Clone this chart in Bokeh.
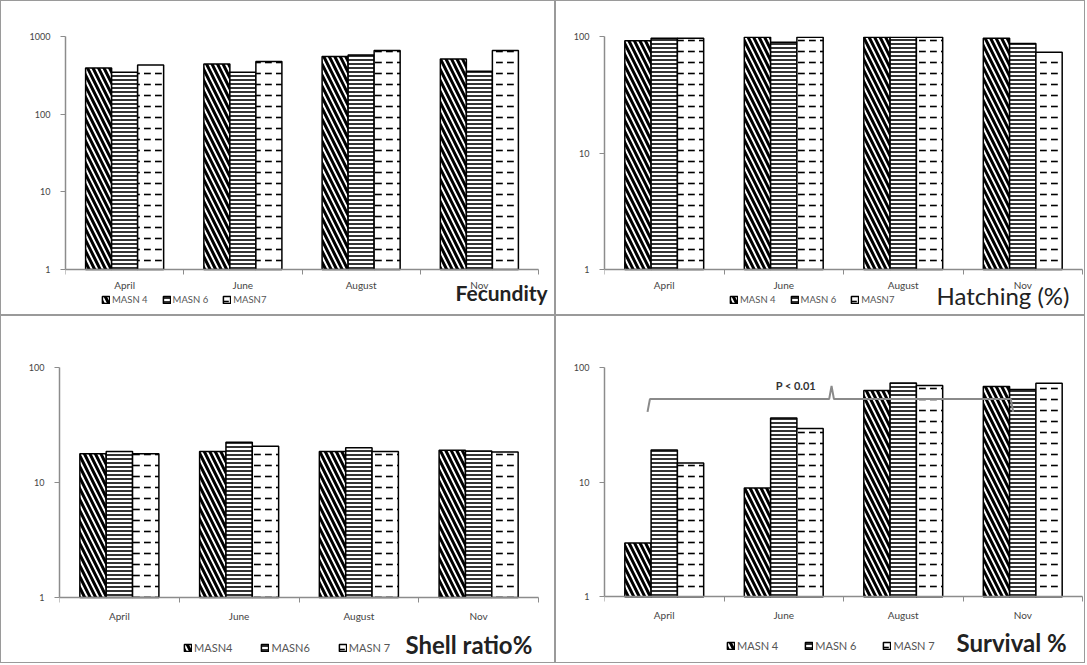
from bokeh.plotting import figure
from bokeh.models import (Range1d, FixedTicker, PrintfTickFormatter, Legend, LegendItem, Label)
from bokeh.layouts import column, row
from bokeh.embed import file_html
from bokeh.resources import INLINE
from bokeh.core.properties import value
import math

# ---------------- data ----------------
months = ["April", "June", "August", "Nov"]

fecundity_masn4 = [394, 443, 551, 514]
fecundity_masn6 = [346, 346, 579, 356]
fecundity_masn7 = [430, 475, 659, 659]

hatching_masn4 = [91.8, 98.7, 98.7, 96.7]
hatching_masn6 = [96.7, 89.3, 98.7, 87.0]
hatching_masn7 = [96.7, 98.7, 98.7, 73.3]

shell_masn4 = [17.8, 18.6, 18.6, 19.1]
shell_masn6 = [18.6, 22.4, 20.1, 18.8]
shell_masn7 = [17.8, 20.7, 18.6, 18.4]

survival_masn4 = [2.94, 8.9, 63.0, 68.1]
survival_masn6 = [19.1, 36.3, 73.3, 64.2]
survival_masn7 = [14.7, 29.4, 69.5, 72.8]

FONT = "Lato"
BAR_W = 0.22
PATTERNS = [
    dict(hatch_pattern="left_diagonal_line", hatch_scale=11, hatch_weight=3.0),
    dict(hatch_pattern="horizontal_line", hatch_scale=4, hatch_weight=1.6),
    dict(hatch_pattern="horizontal_dash", hatch_scale=11, hatch_weight=1.6),
]


def make_panel(width, height, left, axis_right, top, axis_y, ymax, series, legend_labels,
               legend_font, legend_spacing, title, title_bold, title_size,
               legend_pos, title_pos, label_standoff):
    """left/axis_right: px from figure left to the value axis / end of the category axis;
    top/axis_y: px from figure top to ymax / to the value 1.
    The frame runs to the figure edges so legend and title sit inside it below the
    (fixed-location) category axis."""
    bottom_border = 0
    right_border = 2
    n = len(months)
    frame_right = width - right_border
    x_end = n * (frame_right - left) / (axis_right - left)

    decades = math.log10(ymax)
    px_per_dec = (axis_y - top) / decades
    below_px = (height - bottom_border) - axis_y
    ymin = 10 ** (-below_px / px_per_dec)

    p = figure(width=width, height=height, y_axis_type="log",
               x_range=Range1d(0, x_end), y_range=Range1d(ymin, ymax),
               output_backend="svg", toolbar_location=None,
               min_border_left=left, min_border_right=right_border,
               min_border_top=top, min_border_bottom=bottom_border)
    p.outline_line_color = None
    p.xgrid.visible = False
    p.ygrid.visible = False
    p.background_fill_color = "white"
    p.border_fill_color = "white"
    p.styles = {"border": "1px solid #9a9a9a", "box-sizing": "border-box"}

    centers = [i + 0.5 for i in range(n)]
    offsets = [-BAR_W, 0.0, BAR_W]
    renderers = []
    for vals, off, pat in zip(series, offsets, PATTERNS):
        r = p.vbar(x=[c + off for c in centers], top=vals, bottom=1, width=BAR_W,
                   fill_color="white", line_color="black", line_width=1.5,
                   hatch_color="black", **pat)
        renderers.append(r)

    # x axis: labels at category centres, tick marks between categories
    xa = p.xaxis[0]
    xa.fixed_location = 1
    xa.bounds = (0, n)
    xa.ticker = FixedTicker(ticks=centers, minor_ticks=list(range(n + 1)))
    xa.major_label_overrides = {c: m for c, m in zip(centers, months)}
    xa.major_tick_line_color = None
    xa.minor_tick_in = 0
    xa.minor_tick_out = 5
    xa.minor_tick_line_color = "#8c8c8c"
    xa.axis_line_color = "#8c8c8c"
    xa.axis_line_width = 1.5
    xa.major_label_text_font = FONT
    xa.major_label_text_font_size = "10px"
    xa.major_label_text_color = "#444444"
    xa.major_label_standoff = label_standoff

    ya = p.yaxis[0]
    ya.bounds = (1, ymax)
    ticks = [10 ** k for k in range(0, 4) if 10 ** k <= ymax]
    ya.ticker = FixedTicker(ticks=ticks, minor_ticks=[])
    ya.formatter = PrintfTickFormatter(format="%d")
    ya.major_tick_in = 0
    ya.major_tick_out = 5
    ya.major_tick_line_color = "#8c8c8c"
    ya.axis_line_color = "#8c8c8c"
    ya.axis_line_width = 1.5
    ya.major_label_text_font = FONT
    ya.major_label_text_font_size = "9px"
    ya.major_label_text_color = "#444444"
    ya.major_label_standoff = 10

    legend = Legend(items=[LegendItem(label=lab, renderers=[r])
                           for lab, r in zip(legend_labels, renderers)],
                    location=legend_pos, orientation="horizontal",
                    glyph_width=9, glyph_height=9, label_height=9,
                    label_text_font=FONT, label_text_font_size=legend_font,
                    label_text_color="#555555", label_standoff=2,
                    spacing=legend_spacing, padding=0, margin=0,
                    background_fill_alpha=0, border_line_color=None)
    p.add_layout(legend, "center")

    p.add_layout(Label(x=title_pos[0], y=title_pos[1], x_units="screen", y_units="screen",
                       text=title, text_font=FONT, text_font_size=title_size,
                       text_font_style="bold" if title_bold else "normal",
                       text_color="#222222", text_baseline="middle", text_align="left"))
    return p


p1 = make_panel(555, 315, 64, 537, 35, 268, 1000,
                [fecundity_masn4, fecundity_masn6, fecundity_masn7],
                ["MASN 4", "MASN 6", "MASN7"], "9.5px", 14,
                "Fecundity", True, "21px", (36, 11), (390, 24), 3)
p2 = make_panel(530, 315, 48, 526, 35, 268, 100,
                [hatching_masn4, hatching_masn6, hatching_masn7],
                ["MASN 4", "MASN 6", "MASN7"], "9.5px", 14,
                "Hatching (%)", False, "24px", (125, 11), (332, 21), 3)
p3 = make_panel(555, 348, 58, 537, 51, 281, 100,
                [shell_masn4, shell_masn6, shell_masn7],
                ["MASN4", "MASN6", "MASN 7"], "11px", 28,
                "Shell ratio%", True, "24px", (124, 10), (346, 20), 6)
p4 = make_panel(530, 348, 48, 526, 50, 280, 100,
                [survival_masn4, survival_masn6, survival_masn7],
                ["MASN 4", "MASN 6", "MASN 7"], "11px", 26,
                "Survival %", True, "24px", (122, 12), (352, 22), 6)

# significance bracket on the survival panel
bracket_x = [0.36, 0.38, 1.88, 1.90, 1.92, 3.40, 3.42]
bracket_y = [41, 53, 53, 69, 53, 53, 41]
p4.line(bracket_x, bracket_y, line_color="#8a8a8a", line_width=2)
p4.text(x=[1.77], y=[69], text=["P < 0.01"], text_font=value(FONT),
        text_font_size="11px", text_font_style="bold", text_color="#333333",
        text_align="right", text_baseline="middle")

layout = column(row(p1, p2), row(p3, p4))

open("out.html", "w").write(file_html(layout, INLINE))
